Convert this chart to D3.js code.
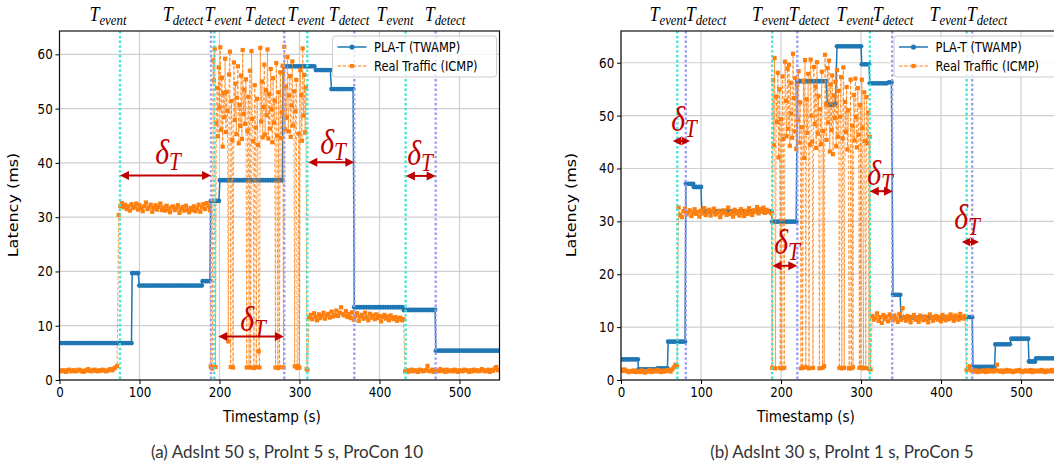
<!DOCTYPE html>
<html><head><meta charset="utf-8">
<script src="https://cdn.jsdelivr.net/npm/d3@7"></script>
<style>
body{margin:0;background:#fff;}
svg text{font-family:"DejaVu Sans",sans-serif;fill:#000;}
</style></head><body>
<svg id="chart" width="1054" height="469"></svg>
<script>
// Each run: [start time (s), sample spacing (s), latency readings (ms)]
const twampA = [
  [0,3,[6.8,6.8,6.8,6.8,6.8,6.8,6.8,6.8,6.8,6.8,6.8,6.8,6.8,6.8,6.8,6.8,6.8,6.8,6.8,6.8,6.8,6.8,6.8,6.8,6.8,6.8,6.8,6.8,6.8,6.8,6.8]],
  [90.8,2.5,[19.7,19.7,19.7,19.7]],
  [99.8,3,[17.4,17.4,17.4,17.4,17.4,17.4,17.4,17.4,17.4,17.4,17.4,17.4,17.4,17.4,17.4,17.4,17.4,17.4,17.4,17.4,17.4,17.4,17.4,17.4,17.4,17.4,17.4]],
  [179,3,[18.2,18.2,18.2,18.2]],
  [189.2,2.5,[33.0,33.0,33.0,33.0,33.0]],
  [200.5,3,[36.8,36.8,36.8,36.8,36.8,36.8,36.8,36.8,36.8,36.8,36.8,36.8,36.8,36.8,36.8,36.8,36.8,36.8,36.8,36.8,36.8,36.8,36.8,36.8,36.8,36.8,36.8]],
  [279.5,3,[57.8,57.8,57.8,57.8,57.8,57.8,57.8,57.8,57.8,57.8,57.8,57.8,57.8,57.8]],
  [320.5,3,[57.1,57.1,57.1,57.1,57.1,57.1,57.1]],
  [340,3,[53.6,53.6,53.6,53.6,53.6,53.6,53.6,53.6,53.6,53.6]],
  [368.5,3,[13.4,13.4,13.4,13.4,13.4,13.4,13.4,13.4,13.4,13.4,13.4,13.4,13.4,13.4,13.4,13.4,13.4,13.4,13.4,13.4,13.4]],
  [430.5,3,[12.9,12.9,12.9,12.9,12.9,12.9,12.9,12.9,12.9,12.9,12.9,12.9,12.9,12.9]],
  [470.5,3,[5.4,5.4,5.4,5.4,5.4,5.4,5.4,5.4,5.4,5.4,5.4,5.4,5.4,5.4,5.4,5.4,5.4,5.4,5.4,5.4,5.4,5.4,5.4,5.4,5.4,5.4,5.4]]
];
const icmpA = [
  [0,2,[1.7,1.6,1.8,1.7,1.5,1.8,1.9,1.6,1.7,1.8,1.6,1.7,1.9,1.8,1.6,1.5,1.7,1.8,2.0,1.7,1.6,1.8,1.9,1.7,1.6,1.8,1.7,1.9,1.8,1.6,1.7,1.9,2.0,1.8,2.1,2.3,2.6]],
  [74,2,[30.4,32.1,32.6,31.8,32.3,31.5,32.0,31.2,32.4,31.7,31.9,32.5,31.4,32.2,31.6,31.1,32.0,32.7,31.5,31.8,32.3,31.0,31.7,32.2,31.4,31.9,32.5,31.3,31.8,31.2,32.1,31.5,30.9,31.8,32.0,31.3,31.6,32.2,30.8,31.5,31.9,31.2,32.1,31.4,30.9,31.7,31.3,32.0,31.1,31.6,32.3,31.0,31.8,32.4,31.5,32.6,32.1]],
  [188,1,[31.3,2.5,2.3,2.1,58.9,55.2,61.0,2.4,47.3,53.8,
          44.9,57.6,50.2,61.3,46.1,55.7,43.0,52.9,48.4,59.2,
          45.7,53.1,49.6,7.1,56.3,60.5,2.4,51.4,44.2,2.3,
          58.5,47.9,54.6,45.3,52.0,57.8,43.6,50.7,46.8,56.1,
          44.4,60.8,49.0,53.5,47.2,55.4,2.3,45.9,52.2,2.4,
          57.0,2.3,60.6,48.1,44.0,2.2,54.3,46.5,2.4,51.8,
          43.3,5.3,2.3,61.2,47.6,55.0,44.7,50.3,58.1,45.2,
          53.4,48.8,60.9,44.5,52.7,46.3,57.3,49.9,43.8,55.6,
          47.4,51.5,2.3,58.4,45.0,2.2,53.0,2.4,56.7,44.6,
          49.3,57.9,2.3,61.4,46.2,54.1,48.3,59.5,45.8,52.4,
          56.0,44.8,50.6,58.7,46.9,53.2,2.5,49.5,55.3,2.2,
          2.6,45.4,2.3,57.1,52.5,44.1,61.1,48.7,56.2,45.6,
          53.9,2.0,1.9]],
  [312,2,[11.5,12.0,11.2,12.3,11.6,11.0,12.1,11.4,11.8,12.4,11.3,11.9,12.2,11.5,12.6,11.7,12.0,12.8,11.8,12.4,13.4,12.1,11.9,12.7,11.6,12.2,11.4,12.5,11.1,11.8,12.3,10.9,11.7,12.0,11.3,12.4,11.6,11.0,12.2,11.5,11.9,11.2,12.1,11.4,11.8,10.8,11.6,12.0,11.3,11.7,11.0,11.9,11.4,11.2,11.6,10.9,11.3,11.5,11.0,11.2]],
  [432,2,[1.6,1.8,1.5,1.7,1.9,1.6,1.8,1.7,1.5,1.9,1.8,1.6,1.7,1.8,2.6,1.7,1.6,1.9,1.5,1.8,1.7,1.6,2.0,1.7,1.8,1.5,1.9,1.6,1.7,1.8,1.6,1.9,1.7,1.5,1.8,1.7,1.6,1.9,1.8,1.7,1.5,1.8,1.6,1.9,1.7,1.8,1.6,1.7,2.0,1.8,1.6,1.7,1.9,1.5,1.8,1.7,2.1,2.4,1.8]]
];
const twampB = [
  [0,3,[3.9,3.9,3.9,3.9,3.9,3.9,3.9,3.9]],
  [22,3,[2.0,2.0,2.0,2.0,2.0,2.0,2.0,2.0]],
  [46,3,[2.2,2.2,2.2,2.2,2.2]],
  [59,3,[7.25,7.25,7.25,7.25,7.25,7.25,7.25,7.25]],
  [81.2,3,[37.1,37.1,37.1,37.1]],
  [91,3,[36.5,36.5,36.5,36.5]],
  [101,3,[31.9,31.9,31.9,31.9,31.9,31.9,31.9,31.9,31.9,31.9,31.9,31.9,31.9,31.9,31.9,31.9,31.9,31.9,31.9,31.9,31.9,31.9,31.9,31.9,31.9,31.9,31.9,31.9,31.9,31.9]],
  [189,3,[29.95,29.95,29.95,29.95,29.95,29.95,29.95,29.95,29.95,29.95,29.95]],
  [220.4,3,[56.5,56.5,56.5,56.5,56.5,56.5,56.5,56.5,56.5,56.5,56.5,56.5,56.5]],
  [258,2.5,[52.3,52.0,52.1,52.0,52.2]],
  [270,3,[63.1,63.1,63.1,63.1,63.1,63.1,63.1,63.1,63.1,63.1,63.1]],
  [301,3,[59.7,59.7,59.7,59.7]],
  [311,3,[56.1,56.1,56.1,56.1,56.1,56.1,56.1,56.1,56.3,56.3]],
  [340,3,[16.1,16.1,16.1,16.1]],
  [350,3,[11.8,11.8,11.8,11.8,11.8,11.8,11.8,11.8,11.8,11.8,11.8,11.8,11.8,11.8,11.8,11.8,11.8,11.8,11.8,11.8,11.8,11.8,11.8,11.8,11.8,11.8,11.8]],
  [430,3,[11.9,11.9,11.9,11.9]],
  [440,3,[2.5,2.5,2.5,2.5,2.5,2.5,2.5,2.5,2.5,2.5]],
  [468,3,[6.75,6.75,6.75,6.75,6.75,6.75,6.75]],
  [488,3,[7.8,7.8,7.8,7.8,7.8,7.8,7.8,7.8]],
  [510,2.5,[3.5,3.5,3.5,3.5]],
  [519,3,[4.1,4.1,4.1,4.1,4.1,4.1,4.1,4.1,4.1,4.1,4.1]]
];
const icmpB = [
  [0,2,[1.9,1.7,2.0,1.8,1.6,1.5,1.7,1.6,1.8,1.5,1.6,1.7,1.5,1.8,1.6,1.4,1.7,1.6,1.9,1.5,1.7,1.8,1.6,1.9,1.7,1.5,1.8,1.6,1.7,1.9,1.8,1.6,2.0,2.4,2.9,2.6]],
  [72,2,[32.6,31.2,30.8,31.9,32.4,31.3,31.7,32.1,31.0,31.6,32.3,31.4,31.8,30.9,32.0,31.5,32.5,31.2,31.7,32.2,31.1,31.9,32.4,31.3,31.6,32.0,30.8,31.5,32.1,31.7,31.2,32.6,31.4,31.8,30.9,32.2,31.5,31.9,31.1,32.3,31.6,31.0,32.0,31.4,32.5,31.7,31.2,32.1,31.8,32.7,31.5,32.3,31.9,32.6,31.6,32.2,31.8]],
  [188,1,[31.5,2.3,56.7,44.4,60.9,2.2,53.6,48.8,58.1,42.1,
          55.0,2.3,49.3,2.2,57.4,45.6,2.3,60.2,52.8,46.1,
          58.9,47.5,59.6,44.3,56.2,50.4,45.8,61.7,53.3,47.0,
          57.1,43.7,55.8,49.2,58.4,44.9,52.5,2.2,47.8,2.3,
          56.6,42.0,60.5,2.4,53.1,46.7,57.9,2.2,44.5,60.6,
          50.0,45.1,2.3,59.2,48.4,55.5,43.9,60.1,46.6,53.7,
          2.2,51.2,44.6,58.3,2.3,47.1,2.6,61.5,52.1,45.4,
          59.0,48.7,60.4,43.2,55.9,47.3,57.6,42.7,53.8,49.5,
          56.4,44.2,58.6,46.0,54.7,2.3,49.8,57.3,2.2,45.7,
          59.1,2.3,52.6,46.9,55.4,43.6,51.0,2.2,2.3,56.8,
          2.2,48.1,2.4,53.9,45.3,57.0,49.7,44.0,55.2,46.4,
          2.3,52.0,2.4,56.8,47.7,2.2,54.4,45.2,2.3,53.5,
          44.8,50.6,2.1,46.0,2.0]],
  [314,2,[12.1,11.4,11.8,12.6,11.2,11.9,10.8,12.3,11.5,12.0,11.1,12.4,11.7,11.3,12.2,11.6,11.0,12.5,11.4,13.6,11.8,11.2,12.1,11.5,10.9,11.9,12.3,11.4,11.7,11.0,12.2,11.6,11.3,12.0,11.5,10.9,12.4,11.8,11.2,11.7,12.1,11.4,11.9,11.1,12.3,11.6,11.3,12.0,11.5,12.4,11.8,11.2,12.2,11.7,11.4,12.5,11.9,11.6,12.1]],
  [432,2,[1.9,2.2,2.6,1.8,1.7,1.6,1.8,1.5,1.7,1.6,1.8,1.7,1.5,1.9,1.6,1.8,1.7,1.6,1.9,2.9,1.7,1.6,1.8,1.5,1.7,1.9,1.6,1.8,1.7,1.5,1.6,1.8,1.7,1.9,1.6,1.5,1.7,1.8,1.6,1.7,1.9,1.5,1.8,1.6,1.7,1.8,1.6,1.9,1.7,1.5,1.8,1.6,1.7,1.9,1.6,1.8,1.7,1.6,1.8]]
];

// event / detection instants (s)
const eventsA = [75.6, 193.5, 309.8, 432.7];
const detectsA = [189.4, 281.0, 368.5, 470.2];
const eventsB = [70.4, 189.0, 311.0, 432.0];
const detectsB = [81.0, 220.4, 339.0, 439.0];

// detection-delay arrows [from (s), to (s), height (ms)] and their labels [t, ms]
const deltaArrowsA = [[75.6,189.4,37.7],[198.5,280.5,8.0],[311.0,368.5,40.1],[433.0,470.2,37.6]];
const deltaLabelsA = [[135.6,41.5],[241.9,10.7],[341.9,43.3],[450.6,41.3]];
const deltaArrowsB = [[64.6,86.3,45.2],[189.4,220.4,21.6],[311.0,340.0,35.7],[426.0,447.5,26.1]];
const deltaLabelsB = [[78.8,48.8],[207.5,25.6],[323.8,38.6],[432.5,30.2]];

// header marks above each panel [kind, t]
const headerA = [["event",60.6],["detect",154.4],["event",204.4],["detect",256.9],["event",308.1],["detect",361.9],["event",419.4],["detect",481.9]];
const headerB = [["event",58.8],["detect",106.3],["event",186.9],["detect",235.0],["event",292.5],["detect",340.0],["event",408.8],["detect",457.5]];

const xTicks = [0,100,200,300,400,500];
const yTicks = [0,10,20,30,40,50,60];
const seriesNames = ["PLA-T (TWAMP)","Real Traffic (ICMP)"];
const captions = ["(a) AdsInt 50 s, ProInt 5 s, ProCon 10","(b) AdsInt 30 s, ProInt 1 s, ProCon 5"];

const BLUE = "#1f77b4", ORANGE = "#ff7f0e", DARKRED = "#c00000";
const EVT = "#40e6d2", DET = "#9a9cf4";
const SQ = 0.85; // horizontal squeeze of the figure text

const svg = d3.select("#chart");

function flatten(runs){
  const pts = [];
  runs.forEach(([t0, dt, vals]) => vals.forEach((v, i) => pts.push([t0 + i * dt, v])));
  return pts;
}

function sqText(sel, x, y){
  return sel.attr("transform", `translate(${x},${y}) scale(${SQ},1)`);
}

function mathT(g, x, y, sub, size){
  const t = g.append("text").attr("text-anchor","middle")
    .attr("transform", `translate(${x},${y}) scale(${SQ},1)`)
    .style("font-family","'Liberation Serif',serif").style("font-style","italic");
  t.append("tspan").text("T").style("font-size", size + "px");
  t.append("tspan").text(sub).attr("dy", size*0.2).style("font-size", (size*0.72) + "px");
  return t;
}

function panel(opt){
  const x0 = opt.x0, x1 = x0 + 440, yTop = 31, yBot = 380;
  const g = svg.append("g");
  const x = d3.scaleLinear().domain([0,550]).range([x0, x1]);
  const y = d3.scaleLinear().domain([0, opt.ymax]).range([yBot, yTop]);
  const clipId = "clip" + opt.id;
  svg.append("clipPath").attr("id", clipId).append("rect")
    .attr("x", x0).attr("y", yTop).attr("width", 440).attr("height", yBot - yTop);

  // grid
  const grid = g.append("g").attr("stroke","#cfcfcf").attr("stroke-width",1.2);
  grid.selectAll(".gx").data(xTicks).join("line")
    .attr("x1", d => x(d)).attr("x2", d => x(d)).attr("y1", yTop).attr("y2", yBot);
  grid.selectAll(".gy").data(yTicks).join("line")
    .attr("x1", x0).attr("x2", x1).attr("y1", d => y(d)).attr("y2", d => y(d));

  const data = g.append("g").attr("clip-path", `url(#${clipId})`);

  // TWAMP probe series
  const tw = flatten(opt.twamp);
  const line = d3.line().x(d => x(d[0])).y(d => y(d[1]));
  data.append("path").datum(tw).attr("d", line)
    .attr("fill","none").attr("stroke", BLUE).attr("stroke-width",1.5);
  data.append("g").attr("fill", BLUE).selectAll("circle").data(tw).join("circle")
    .attr("cx", d => x(d[0])).attr("cy", d => y(d[1])).attr("r", 2.4);

  // ICMP traffic series
  const ic = flatten(opt.icmp);
  data.append("path").datum(ic).attr("d", line)
    .attr("fill","none").attr("stroke", ORANGE).attr("stroke-width",1)
    .attr("stroke-opacity",0.75).attr("stroke-dasharray","3.5,1.8");
  data.append("g").attr("fill", ORANGE).selectAll("rect").data(ic).join("rect")
    .attr("x", d => x(d[0]) - 2.1).attr("y", d => y(d[1]) - 2.1)
    .attr("width", 4.2).attr("height", 4.2);

  // event and detection instants
  const vl = g.append("g").attr("stroke-width",2.4).attr("stroke-dasharray","2.4,2.4");
  vl.selectAll(".ev").data(opt.events).join("line").attr("stroke", EVT)
    .attr("x1", d => x(d)).attr("x2", d => x(d)).attr("y1", yTop).attr("y2", yBot);
  vl.selectAll(".de").data(opt.detects).join("line").attr("stroke", DET)
    .attr("x1", d => x(d)).attr("x2", d => x(d)).attr("y1", yTop).attr("y2", yBot);

  // delta arrows
  const ar = g.append("g");
  const HL = 9, HW = 4.5;
  opt.arrows.forEach(([a, b, v]) => {
    const xa = x(a), xb = x(b), yy = y(v);
    ar.append("line").attr("x1", xa + HL*0.8).attr("x2", xb - HL*0.8).attr("y1", yy).attr("y2", yy)
      .attr("stroke", DARKRED).attr("stroke-width", 2);
    ar.append("path").attr("fill", DARKRED)
      .attr("d", `M${xa},${yy}L${xa+HL},${yy-HW}L${xa+HL},${yy+HW}Z M${xb},${yy}L${xb-HL},${yy-HW}L${xb-HL},${yy+HW}Z`);
  });
  opt.deltaLabels.forEach(([t, v]) => {
    const tx = ar.append("text").attr("text-anchor","middle")
      .attr("transform", `translate(${x(t)},${y(v) + 9}) scale(${SQ},1)`)
      .style("font-family","'Liberation Serif',serif").style("font-style","italic")
      .style("fill", DARKRED);
    tx.append("tspan").text("δ").style("font-size","35px");
    tx.append("tspan").text("T").attr("dy", 6).style("font-size","25px");
  });

  // frame
  g.append("rect").attr("x", x0).attr("y", yTop).attr("width", 440).attr("height", yBot - yTop)
    .attr("fill","none").attr("stroke","#111").attr("stroke-width",1.2);

  // axes
  const ax = g.append("g").attr("transform", `translate(0,${yBot})`)
    .call(d3.axisBottom(x).tickValues(xTicks).tickSize(4).tickSizeOuter(0).tickPadding(3));
  ax.select(".domain").remove();
  ax.selectAll("text").attr("transform", `scale(${SQ},1)`).style("font-size","14px").style("font-family","'DejaVu Sans'");
  const ay = g.append("g").attr("transform", `translate(${x0},0)`)
    .call(d3.axisLeft(y).tickValues(yTicks).tickSize(4).tickSizeOuter(0).tickPadding(4));
  ay.select(".domain").remove();
  ay.selectAll("text").attr("transform", `scale(${SQ},1)`).style("font-size","14px").style("font-family","'DejaVu Sans'");

  // axis titles
  sqText(g.append("text").attr("text-anchor","middle").style("font-size","16px").text("Timestamp (s)"), opt.xlabelX, 422);
  g.append("text").attr("text-anchor","middle").style("font-size","16px")
    .attr("transform", `translate(${opt.ylabelX},${205}) rotate(-90) scale(1,${SQ})`).text("Latency (ms)");

  // header marks
  opt.header.forEach(([kind, t]) => mathT(g, x(t), 21, kind, 21));

  // legend
  const lg = g.append("g").attr("transform", `translate(${x0 + 273},36)`);
  lg.append("rect").attr("width",164).attr("height",41).attr("rx",3)
    .attr("fill","#fff").attr("fill-opacity",0.8).attr("stroke","#cccccc");
  const e1 = lg.append("g").attr("transform","translate(5,11)");
  e1.append("line").attr("x1",0).attr("x2",29).attr("stroke",BLUE).attr("stroke-width",1.5);
  e1.append("circle").attr("cx",14.5).attr("r",2.6).attr("fill",BLUE);
  sqText(e1.append("text").style("font-size","13.5px").attr("dominant-baseline","central").text(seriesNames[0]), 36.5, 0);
  const e2 = lg.append("g").attr("transform","translate(5,30)");
  e2.append("line").attr("x1",0).attr("x2",29).attr("stroke",ORANGE).attr("stroke-width",1.1).attr("stroke-dasharray","3.5,1.6");
  e2.append("rect").attr("x",12.4).attr("y",-2.1).attr("width",4.2).attr("height",4.2).attr("fill",ORANGE);
  sqText(e2.append("text").style("font-size","13.5px").attr("dominant-baseline","central").text(seriesNames[1]), 36.5, 0);

  // caption
  svg.append("text").attr("x", opt.capX).attr("y", 458).attr("text-anchor","middle")
    .style("font-family","Lato, 'Open Sans', sans-serif").style("font-size","17px").style("fill","#333")
    .text(opt.caption);
}

panel({id:"A", x0:59.5, ymax:64.3, twamp:twampA, icmp:icmpA, events:eventsA, detects:detectsA,
  arrows:deltaArrowsA, deltaLabels:deltaLabelsA, header:headerA, xlabelX:272, ylabelX:18, capX:287, caption:captions[0]});
panel({id:"B", x0:621, ymax:66, twamp:twampB, icmp:icmpB, events:eventsB, detects:detectsB,
  arrows:deltaArrowsB, deltaLabels:deltaLabelsB, header:headerB, xlabelX:806, ylabelX:576, capX:842, caption:captions[1]});
</script>
</body></html>
